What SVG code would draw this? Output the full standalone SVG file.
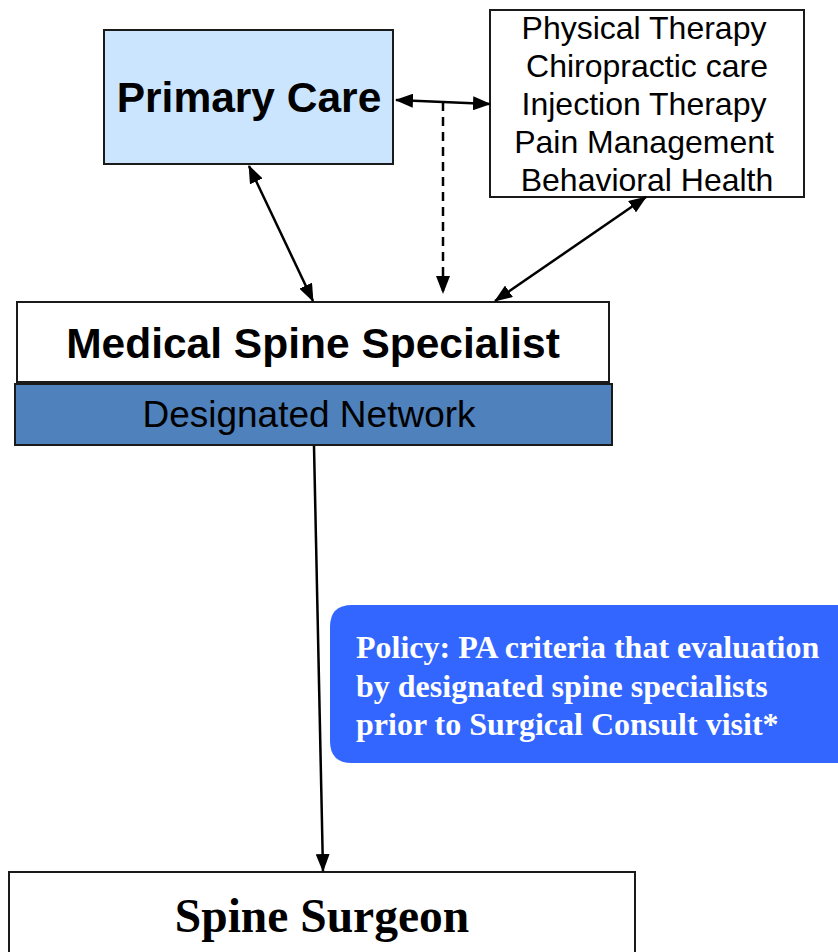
<svg xmlns="http://www.w3.org/2000/svg" width="838" height="952" viewBox="0 0 838 952">
<style>
.box{fill:#fff;stroke:#1a1a1a;stroke-width:2}
.sans{font-family:"Liberation Sans",Arial,sans-serif;fill:#000}
.serif{font-family:"Liberation Serif","Times New Roman",serif;font-weight:bold}
.conn{stroke:#000;stroke-width:2.5;fill:none}
</style>
<defs>
<marker id="ah" markerUnits="userSpaceOnUse" markerWidth="18" markerHeight="14" refX="17" refY="7" orient="auto-start-reverse" viewBox="0 0 18 14">
<path d="M0,0 L18,7 L0,14 Z" fill="#000"/>
</marker>
</defs>
<rect width="838" height="952" fill="#fff"/>
<g id="primary-care">
<rect x="104" y="30" width="289" height="134" fill="#cce5ff" stroke="#1a1a1a" stroke-width="2"/>
<text x="249" y="112" class="sans" font-size="42.5" font-weight="bold" text-anchor="middle">Primary Care</text>
</g>
<g id="therapies">
<rect class="box" x="490" y="10" width="314" height="187"/>
<g class="sans" font-size="32" text-anchor="middle">
<text x="644" y="39">Physical Therapy</text>
<text x="647" y="77">Chiropractic care</text>
<text x="644" y="115">Injection Therapy</text>
<text x="644" y="153">Pain Management</text>
<text x="647" y="191">Behavioral Health</text>
</g>
</g>
<g id="medical-spine-specialist">
<rect class="box" x="17" y="302" width="592" height="80"/>
<text x="313" y="358" class="sans" font-size="42.5" font-weight="bold" text-anchor="middle">Medical Spine Specialist</text>
</g>
<g id="designated-network">
<rect x="15" y="384" width="597" height="61" fill="#4f81bd" stroke="#1a1a1a" stroke-width="2"/>
<text x="309" y="427" class="sans" font-size="37" text-anchor="middle">Designated Network</text>
</g>
<g id="policy">
<path d="M352,605 H860 V763 H352 Q330,763 330,741 V627 Q330,605 352,605 Z" fill="#3366ff"/>
<g class="serif" font-size="32" fill="#fff">
<text x="356" y="658">Policy: PA criteria that evaluation</text>
<text x="356" y="697">by designated spine specialists</text>
<text x="356" y="735">prior to Surgical Consult visit*</text>
</g>
</g>
<g id="spine-surgeon">
<rect class="box" x="9" y="872" width="626" height="100"/>
<text x="322" y="932" class="serif" font-size="47.5" fill="#000" text-anchor="middle">Spine Surgeon</text>
</g>
<g id="connectors">
<line class="conn" x1="396" y1="100" x2="490" y2="104" marker-start="url(#ah)" marker-end="url(#ah)"/>
<line class="conn" x1="443" y1="102" x2="443" y2="293" stroke-dasharray="9,6" marker-end="url(#ah)"/>
<line class="conn" x1="249" y1="166" x2="313" y2="301" marker-start="url(#ah)" marker-end="url(#ah)"/>
<line class="conn" x1="646" y1="197" x2="495" y2="301" marker-start="url(#ah)" marker-end="url(#ah)"/>
<line class="conn" x1="314" y1="446" x2="323" y2="871" marker-end="url(#ah)"/>
</g>
</svg>
